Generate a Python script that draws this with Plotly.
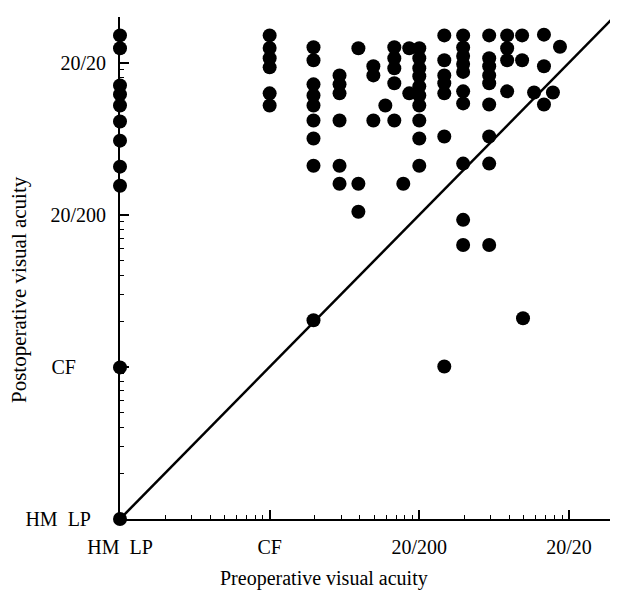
import math
import plotly.graph_objects as go

# Acuity scale expressed in decades above "HM LP" (0 = HM LP, 1 = CF, 2 = 20/200, 3 = 20/20)
tick_pos = [0, 1, 2, 3]
x_tick_labels = ["HM\u00a0\u00a0LP", "CF", "20/200", "20/20"]
y_tick_labels = ["HM\u00a0\u00a0LP\u00a0\u00a0\u00a0", "CF\u00a0\u00a0\u00a0\u00a0\u00a0\u00a0", "20/200", "20/20"]
axis_end = math.log10(2000)

# Preoperative (x) and postoperative (y) acuity of each eye, in the same decade units
pre = (
    [0.0] * 11
    + [1.0] * 6
    + [1.293] * 9
    + [1.467] * 6
    + [1.593] * 3
    + [1.693] * 3
    + [1.773]
    + [1.833] * 5
    + [1.893]
    + [1.933] * 2
    + [2.0] * 10
    + [2.167] * 7
    + [2.293] * 10
    + [2.467] * 9
    + [2.587] * 4
    + [2.687] * 2
    + [2.693]
    + [2.767]
    + [2.833] * 3
    + [2.893]
    + [2.94]
)
post = (
    [3.18, 3.096, 2.851, 2.792, 2.719, 2.614, 2.488, 2.317, 2.191, 0.997, 0.0]
    + [3.18, 3.097, 3.030, 2.970, 2.799, 2.719]
    + [3.102, 3.017, 2.858, 2.785, 2.719, 2.620, 2.502, 2.323, 1.307]
    + [2.917, 2.858, 2.799, 2.620, 2.323, 2.205]
    + [3.096, 2.205, 2.020]
    + [2.977, 2.917, 2.620]
    + [2.719]
    + [3.102, 3.030, 2.964, 2.865, 2.620]
    + [2.205]
    + [2.799, 3.096]
    + [3.096, 3.030, 2.964, 2.911, 2.845, 2.785, 2.719, 2.620, 2.502, 2.323]
    + [3.18, 3.017, 2.917, 2.865, 2.799, 2.515, 1.003]
    + [3.18, 3.100, 3.045, 2.992, 2.940, 2.812, 2.733, 2.337, 1.967, 1.802]
    + [3.18, 3.030, 2.977, 2.917, 2.865, 2.726, 2.515, 2.337, 1.802]
    + [3.18, 3.096, 3.017, 2.812]
    + [3.18, 3.017]
    + [1.320]
    + [2.805]
    + [3.185, 2.977, 2.726]
    + [2.805]
    + [3.105]
)

# minor (log) ticks inside each decade
minor_vals = [d + math.log10(k) for d in range(4) for k in range(2, 10)
              if d + math.log10(k) < axis_end - 1e-6]

FONT = "Liberation Serif"

fig = go.Figure()
fig.add_trace(go.Scatter(
    x=[0, axis_end], y=[0, axis_end], mode="lines",
    line=dict(color="black", width=2.5), showlegend=False, hoverinfo="skip",
))
fig.add_trace(go.Scatter(
    x=pre, y=post, mode="markers",
    marker=dict(color="black", size=14, line=dict(width=0)),
    cliponaxis=False, showlegend=False,
))

axis_common = dict(
    range=[0, axis_end],
    tickmode="array",
    tickvals=tick_pos + [axis_end],
    ticks="inside", ticklen=9, tickwidth=1.5, tickcolor="black",
    showline=True, linecolor="black", linewidth=2,
    showgrid=False, zeroline=False, automargin=False,
    tickfont=dict(family=FONT, size=20, color="black"),
    minor=dict(tickmode="array", tickvals=minor_vals, ticks="inside",
               ticklen=4, tickwidth=1.2, tickcolor="black", showgrid=False),
    fixedrange=True,
)

fig.update_xaxes(**axis_common, ticktext=x_tick_labels + [""], ticklabelstandoff=9)
fig.update_yaxes(**axis_common, ticktext=y_tick_labels + [""], ticklabelstandoff=8)

# page body has an 8px default margin, so the figure is drawn 8px smaller and offset
fig.update_layout(
    width=610, height=585,
    margin=dict(l=112, r=4, t=9, b=74),
    paper_bgcolor="white", plot_bgcolor="white",
    font=dict(family=FONT, color="black"),
    annotations=[
        dict(text="Preoperative visual acuity", xref="paper", yref="paper",
             x=(324 - 120) / 494, y=(519 - 578) / 502, xanchor="center", yanchor="middle",
             showarrow=False, font=dict(family=FONT, size=20, color="black")),
        dict(text="Postoperative visual acuity", xref="paper", yref="paper",
             x=(19 - 120) / 494, y=(519 - 290) / 502, xanchor="center", yanchor="middle",
             textangle=-90, showarrow=False, font=dict(family=FONT, size=21, color="black")),
    ],
)

fig.write_html("out.html")
